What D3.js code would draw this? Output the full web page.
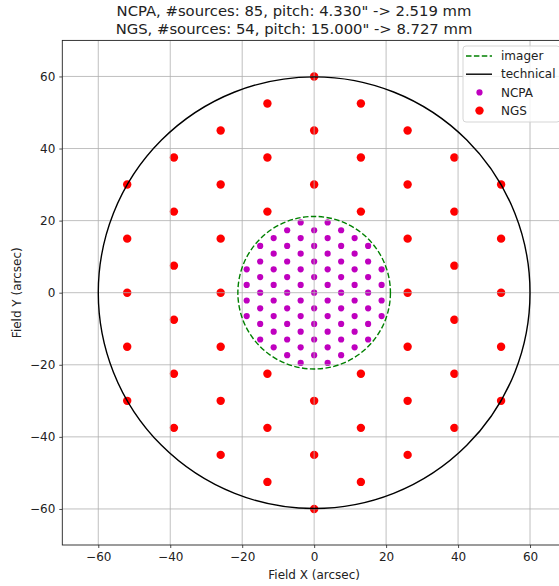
<!DOCTYPE html>
<html>
<head>
<meta charset="utf-8">
<script src="https://cdn.jsdelivr.net/npm/d3@7"></script>
<style>
  html, body { margin: 0; padding: 0; background: #fff; overflow: hidden; }
  svg { display: block; font-family: "DejaVu Sans", sans-serif; }
</style>
</head>
<body>
<script>
// Titles and labels
const titleLines = [
  "NCPA, #sources: 85, pitch: 4.330\" -> 2.519 mm",
  "NGS, #sources: 54, pitch: 15.000\" -> 8.727 mm"
];
const xLabel = "Field X (arcsec)";
const yLabel = "Field Y (arcsec)";
const ticks = [-60, -40, -20, 0, 20, 40, 60];

// Field radii (arcsec)
const imagerRadius = 21.2;
const technicalRadius = 60;

// NCPA sources, per column: x and the y values in that column
const ncpaColX = [-18.75, -15, -11.25, -7.5, -3.75, 0, 3.75, 7.5, 11.25, 15, 18.75];
const ncpaColY = [
  [-6.495, -2.165, 2.165, 6.495],
  [-12.99, -8.66, -4.33, 0, 4.33, 8.66, 12.99],
  [-15.155, -10.825, -6.495, -2.165, 2.165, 6.495, 10.825, 15.155],
  [-17.32, -12.99, -8.66, -4.33, 0, 4.33, 8.66, 12.99, 17.32],
  [-19.485, -15.155, -10.825, -6.495, -2.165, 2.165, 6.495, 10.825, 15.155, 19.485],
  [-17.32, -12.99, -8.66, -4.33, 0, 4.33, 8.66, 12.99, 17.32],
  [-19.485, -15.155, -10.825, -6.495, -2.165, 2.165, 6.495, 10.825, 15.155, 19.485],
  [-17.32, -12.99, -8.66, -4.33, 0, 4.33, 8.66, 12.99, 17.32],
  [-15.155, -10.825, -6.495, -2.165, 2.165, 6.495, 10.825, 15.155],
  [-12.99, -8.66, -4.33, 0, 4.33, 8.66, 12.99],
  [-6.495, -2.165, 2.165, 6.495]
];

// NGS sources, per column
const ngsColX = [-51.96, -38.97, -25.98, -12.99, 0, 12.99, 25.98, 38.97, 51.96];
const ngsColY = [
  [-30, -15, 0, 15, 30],
  [-37.5, -22.5, -7.5, 7.5, 22.5, 37.5],
  [-45, -30, -15, 0, 15, 30, 45],
  [-52.5, -37.5, -22.5, 22.5, 37.5, 52.5],
  [-60, -45, -30, 30, 45, 60],
  [-52.5, -37.5, -22.5, 22.5, 37.5, 52.5],
  [-45, -30, -15, 0, 15, 30, 45],
  [-37.5, -22.5, -7.5, 7.5, 22.5, 37.5],
  [-30, -15, 0, 15, 30]
];

const ncpa = ncpaColX.flatMap((x, i) => ncpaColY[i].map(y => ({x, y})));
const ngs = ngsColX.flatMap((x, i) => ngsColY[i].map(y => ({x, y})));

const width = 559, height = 586;
const plot = {left: 62.3, right: 566, top: 40.4, bottom: 545};

const svg = d3.select("body").append("svg")
  .attr("width", width).attr("height", height)
  .attr("viewBox", [0, 0, width, height]);

const x = d3.scaleLinear().domain([-70, 70]).range([plot.left, plot.right]);
const y = d3.scaleLinear().domain([-70, 70]).range([plot.bottom, plot.top]);

svg.append("clipPath").attr("id", "clip")
  .append("rect")
  .attr("x", plot.left).attr("y", plot.top)
  .attr("width", plot.right - plot.left).attr("height", plot.bottom - plot.top);

const g = svg.append("g").attr("clip-path", "url(#clip)");

// scatter (zorder 1 in mpl, below grid)
g.append("g").selectAll("circle").data(ngs).join("circle")
  .attr("cx", d => x(d.x)).attr("cy", d => y(d.y)).attr("r", 4.2)
  .attr("fill", "#ff0000");
g.append("g").selectAll("circle").data(ncpa).join("circle")
  .attr("cx", d => x(d.x)).attr("cy", d => y(d.y)).attr("r", 3.1)
  .attr("fill", "#bf00bf");

// grid
const grid = g.append("g").attr("stroke", "#b0b0b0").attr("stroke-width", 0.8);
grid.selectAll(".gx").data(ticks).join("line")
  .attr("x1", d => x(d)).attr("x2", d => x(d))
  .attr("y1", plot.top).attr("y2", plot.bottom);
grid.selectAll(".gy").data(ticks).join("line")
  .attr("y1", d => y(d)).attr("y2", d => y(d))
  .attr("x1", plot.left).attr("x2", plot.right);

// field circles
g.append("circle")
  .attr("cx", x(0)).attr("cy", y(0)).attr("r", x(technicalRadius) - x(0))
  .attr("fill", "none").attr("stroke", "#000").attr("stroke-width", 1.4);
g.append("circle")
  .attr("cx", x(0)).attr("cy", y(0)).attr("r", x(imagerRadius) - x(0))
  .attr("fill", "none").attr("stroke", "#008000").attr("stroke-width", 1.4)
  .attr("stroke-dasharray", "5.5,2.4");

// axes
const fmt = d => d < 0 ? "\u2212" + Math.abs(d) : String(d);
const xAxis = svg.append("g").attr("transform", `translate(0,${plot.bottom})`)
  .call(d3.axisBottom(x).tickValues(ticks).tickFormat(fmt).tickSize(3).tickPadding(4));
const yAxis = svg.append("g").attr("transform", `translate(${plot.left},0)`)
  .call(d3.axisLeft(y).tickValues(ticks).tickFormat(fmt).tickSize(3).tickPadding(4));
for (const ax of [xAxis, yAxis]) {
  ax.select(".domain").remove();
  ax.selectAll("text").attr("font-size", 12).attr("fill", "#222")
    .attr("font-family", "DejaVu Sans");
  ax.selectAll("line").attr("stroke", "#222").attr("stroke-width", 0.8);
}

// spines (right one falls outside the window)
svg.append("rect")
  .attr("x", plot.left).attr("y", plot.top)
  .attr("width", plot.right - plot.left).attr("height", plot.bottom - plot.top)
  .attr("fill", "none").attr("stroke", "#222").attr("stroke-width", 0.9);

// axis labels
svg.append("text").attr("x", x(0)).attr("y", 579)
  .attr("text-anchor", "middle").attr("font-size", 12).attr("fill", "#222")
  .text(xLabel);
svg.append("text")
  .attr("transform", `translate(21,${y(0)}) rotate(-90)`)
  .attr("text-anchor", "middle").attr("font-size", 12).attr("fill", "#222")
  .text(yLabel);

// title
svg.append("g").selectAll("text").data(titleLines).join("text")
  .attr("x", 294).attr("y", (d, i) => 16 + i * 18)
  .attr("text-anchor", "middle").attr("font-size", 14.8).attr("fill", "#222")
  .text(d => d);

// legend
const legendItems = [
  {label: "imager", type: "line", color: "#008000", dash: "5.5,2.4"},
  {label: "technical", type: "line", color: "#000", dash: null},
  {label: "NCPA", type: "dot", color: "#bf00bf", r: 3.1},
  {label: "NGS", type: "dot", color: "#ff0000", r: 4.2}
];
const lg = svg.append("g").attr("transform", "translate(463,46)");
lg.append("rect")
  .attr("width", 97).attr("height", 76).attr("rx", 3)
  .attr("fill", "#fff").attr("fill-opacity", 0.8)
  .attr("stroke", "#d0d0d0").attr("stroke-width", 0.9);
const row = lg.selectAll("g.item").data(legendItems).join("g")
  .attr("transform", (d, i) => `translate(0,${10 + i * 18.2})`);
row.filter(d => d.type === "line").append("line")
  .attr("x1", 3).attr("x2", 29)
  .attr("stroke", d => d.color).attr("stroke-width", 1.4)
  .attr("stroke-dasharray", d => d.dash);
row.filter(d => d.type === "dot").append("circle")
  .attr("cx", 16.5).attr("r", d => d.r).attr("fill", d => d.color);
row.append("text").attr("x", 38).attr("dy", "0.35em")
  .attr("font-size", 12).attr("fill", "#222").text(d => d.label);
</script>
</body>
</html>
